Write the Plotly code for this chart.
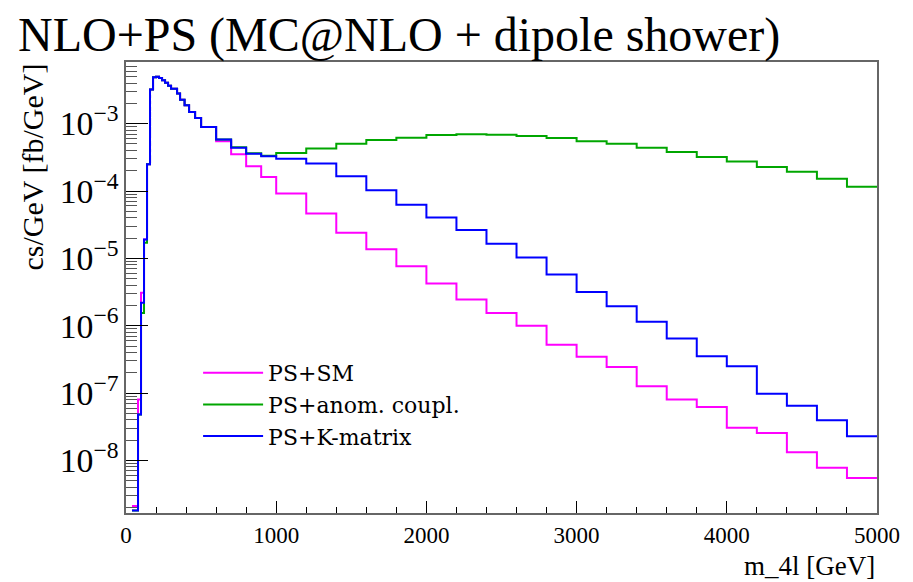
import plotly.graph_objects as go

# bin edges in GeV (variable binning)
edges = [40, 80, 100, 120, 140, 160, 180, 200, 220, 240, 260, 280, 300, 340, 360,
         390, 420, 460, 500, 600, 700, 800, 900, 1000, 1200, 1400, 1600, 1800, 2000,
         2200, 2400, 2600, 2800, 3000, 3200, 3400, 3600, 3800, 4000, 4200, 4400, 4600,
         4800, 5000]

# cs/GeV [fb/GeV] per bin
ps_sm = [2.1e-9, 8e-8, 3.1e-6, 1.9e-5, 2.5e-4, 3.2e-3, 4.9e-3, 4.95e-3, 4.75e-3, 4.4e-3,
         4.05e-3, 3.65e-3, 3.3e-3, 2.8e-3, 2.27e-3, 1.87e-3, 1.49e-3, 1.21e-3, 8.9e-4,
         5.5e-4, 3.5e-4, 2.34e-4, 1.61e-4, 9.2e-5, 4.65e-5, 2.4e-5, 1.37e-5, 7.66e-6,
         4.24e-6, 2.45e-6, 1.55e-6, 1.0e-6, 5.2e-7, 3.45e-7, 2.45e-7, 1.26e-7, 8.0e-8,
         6.2e-8, 3.07e-8, 2.56e-8, 1.32e-8, 7.8e-9, 5.5e-9]

ps_anom = [1.8e-9, 4.8e-8, 1.55e-6, 1.7e-5, 2.5e-4, 3.2e-3, 4.9e-3, 4.95e-3, 4.75e-3, 4.4e-3,
           4.05e-3, 3.65e-3, 3.3e-3, 2.8e-3, 2.27e-3, 1.87e-3, 1.49e-3, 1.21e-3, 8.9e-4,
           5.8e-4, 4.45e-4, 3.62e-4, 3.35e-4, 3.65e-4, 4.26e-4, 5.05e-4, 5.71e-4, 6.19e-4,
           6.78e-4, 6.93e-4, 6.86e-4, 6.55e-4, 6.1e-4, 5.5e-4, 5.05e-4, 4.4e-4, 3.79e-4,
           3.19e-4, 2.75e-4, 2.27e-4, 1.93e-4, 1.52e-4, 1.16e-4]

ps_kmat = [1.8e-9, 4.8e-8, 2.2e-6, 1.9e-5, 2.5e-4, 3.2e-3, 4.9e-3, 4.95e-3, 4.75e-3, 4.4e-3,
           4.05e-3, 3.65e-3, 3.3e-3, 2.8e-3, 2.27e-3, 1.87e-3, 1.49e-3, 1.21e-3, 8.9e-4,
           5.8e-4, 4.4e-4, 3.58e-4, 3.27e-4, 3.02e-4, 2.55e-4, 1.66e-4, 1.03e-4, 6.25e-5,
           4.05e-5, 2.63e-5, 1.65e-5, 1.03e-5, 5.76e-6, 3.17e-6, 1.95e-6, 1.15e-6, 6.45e-7,
           3.52e-7, 2.5e-7, 9.8e-8, 6.5e-8, 3.94e-8, 2.28e-8]

series = [
    ("PS+SM", ps_sm, "#ff00ff"),
    ("PS+anom. coupl.", ps_anom, "#00a600"),
    ("PS+K-matrix", ps_kmat, "#0000ff"),
]

FONT = "Liberation Serif"
WIDE = "DejaVu Serif"

fig = go.Figure()
for name, vals, color in series:
    fig.add_trace(go.Scatter(
        x=edges, y=vals + [vals[-1]], name=name, mode="lines",
        line=dict(color=color, width=2, shape="hv"),
    ))

# page body adds an 8px margin, so the margins are trimmed by that much
fig.update_layout(
    width=913, height=582,
    margin=dict(l=118, r=44, t=54, b=77, autoexpand=False),
    paper_bgcolor="white", plot_bgcolor="white",
    font=dict(family=FONT, color="black", size=20),
    title=dict(text="NLO+PS (MC@NLO + dipole shower)", x=10/913, xanchor="left",
               y=0.983, yanchor="top", font=dict(size=48, family=FONT)),
    showlegend=True,
    legend=dict(x=0.096, y=0.357, xanchor="left", yanchor="top", bgcolor="rgba(0,0,0,0)",
                font=dict(size=22, family=WIDE), itemwidth=60, tracegroupgap=0),
)

fig.update_xaxes(
    range=[0, 5000], showgrid=False, zeroline=False, automargin=False,
    showline=True, linecolor="#666", linewidth=2, mirror=True,
    ticks="inside", ticklen=12, tickcolor="black", dtick=1000,
    minor=dict(ticks="inside", ticklen=6, dtick=200, tickcolor="black", showgrid=False),
    tickfont=dict(size=23),
)
fig.update_yaxes(
    type="log", range=[-8.78, -2.085], showgrid=False, zeroline=False, automargin=False,
    showline=True, linecolor="#666", linewidth=2, mirror=True,
    ticks="inside", ticklen=22, tickcolor="black", dtick=1,
    exponentformat="power", showexponent="all",
    minor=dict(ticks="inside", ticklen=11, tickcolor="#555", showgrid=False),
    tickfont=dict(size=27),
)

# ROOT-style axis titles: aligned to the top/right ends of the axes
fig.add_annotation(text="m_4l [GeV]", xref="paper", yref="paper", x=1, y=0,
                   xanchor="right", yanchor="top", yshift=-36, showarrow=False,
                   font=dict(size=27, family=FONT))
fig.add_annotation(text="cs/GeV [fb/GeV]", xref="paper", yref="paper", x=0, y=1,
                   xanchor="center", yanchor="top", xshift=-94, textangle=-90,
                   showarrow=False, font=dict(size=30, family=FONT))

fig.write_html("out.html")
